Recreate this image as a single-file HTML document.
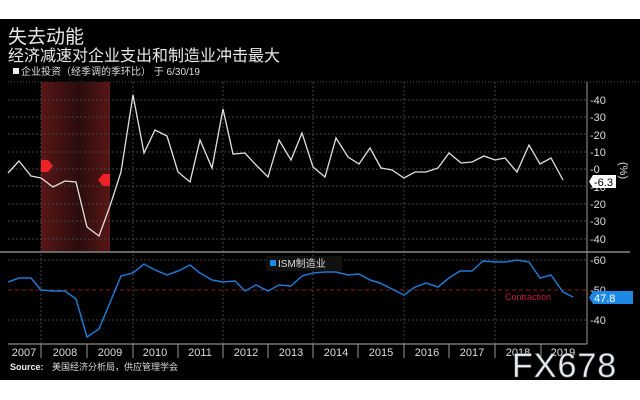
<!DOCTYPE html>
<html><head><meta charset="utf-8"><style>
body{margin:0;background:#fff;width:640px;height:400px;overflow:hidden}
svg{display:block}
text{font-family:"Liberation Sans","Noto Sans CJK SC",sans-serif}
</style></head><body>
<svg width="640" height="400" viewBox="0 0 640 400">
<defs>
<linearGradient id="rb" x1="0" x2="1">
<stop offset="0" stop-color="#5a1616"/><stop offset="0.55" stop-color="#2a0c0c"/><stop offset="1" stop-color="#5a1616"/>
</linearGradient>
</defs>
<rect x="0" y="19" width="640" height="361" fill="#000"/>
<text x="8" y="43" fill="#e8e8e8" font-size="19" font-family="Noto Serif CJK SC,serif">失去动能</text>
<text x="8" y="61" fill="#e8e8e8" font-size="16" font-family="Noto Serif CJK SC,serif">经济减速对企业支出和制造业冲击最大</text>
<rect x="13" y="68" width="6" height="6" fill="#eee"/>
<text x="21" y="75" fill="#ddd" font-size="10">企业投资（经季调的季环比） 于 6/30/19</text>
<line x1="8" y1="82" x2="640" y2="82" stroke="#555" stroke-dasharray="1,2"/>
<rect x="41" y="82" width="69" height="170" fill="url(#rb)"/>
<g stroke="#444" stroke-dasharray="2,2" stroke-width="1">
<line x1="8" x2="587" y1="100" y2="100"/><line x1="8" x2="587" y1="117" y2="117"/><line x1="8" x2="587" y1="134" y2="134"/><line x1="8" x2="587" y1="152" y2="152"/><line x1="8" x2="587" y1="169" y2="169"/><line x1="8" x2="587" y1="186" y2="186"/><line x1="8" x2="587" y1="204" y2="204"/><line x1="8" x2="587" y1="221" y2="221"/><line x1="8" x2="587" y1="239" y2="239"/>
<line x1="8" x2="587" y1="260" y2="260"/><line x1="8" x2="587" y1="320" y2="320"/>
<line x1="41" x2="41" y1="82" y2="344"/><line x1="133" x2="133" y1="82" y2="344"/><line x1="223" x2="223" y1="82" y2="344"/><line x1="313" x2="313" y1="82" y2="344"/><line x1="404" x2="404" y1="82" y2="344"/><line x1="495" x2="495" y1="82" y2="344"/>
</g>
<line x1="8" x2="587" y1="290" y2="290" stroke="#8a1a1a" stroke-dasharray="4,3"/>
<line x1="0" x2="630" y1="252" y2="252" stroke="#666" stroke-width="2"/>
<line x1="587" x2="587" y1="82" y2="344" stroke="#999"/>
<line x1="8" x2="587" y1="344" y2="344" stroke="#aaa"/>
<g fill="#ddd" font-size="11">
<text x="590" y="104">-40</text><text x="590" y="121">-30</text><text x="590" y="139">-20</text><text x="590" y="156">-10</text><text x="590" y="173">-0</text>
<text x="590" y="208">-10</text><text x="590" y="225">-20</text><text x="590" y="243">-30</text><text x="590" y="260" font-size="0">.</text>
<text x="590" y="243">-40</text>
<text x="590" y="264">-60</text><text x="590" y="294">-50</text><text x="590" y="324">-40</text>
</g>
<g fill="#000"><rect x="589" y="96" width="30" height="12"/><rect x="589" y="113" width="30" height="12"/><rect x="589" y="130" width="30" height="12"/><rect x="589" y="148" width="30" height="12"/><rect x="589" y="165" width="30" height="12"/><rect x="589" y="200" width="30" height="12"/><rect x="589" y="217" width="30" height="12"/><rect x="589" y="235" width="30" height="12"/></g>
<g fill="#ddd" font-size="11">
<text x="590" y="104">-40</text><text x="590" y="121">-30</text><text x="590" y="139">-20</text><text x="590" y="156">-10</text><text x="590" y="173">-0</text>
<text x="590" y="191">-10</text><text x="590" y="208">-20</text><text x="590" y="225">-30</text><text x="590" y="243">-40</text>
</g>
<text x="0" y="0" fill="#ddd" font-size="11" transform="translate(620,162) rotate(90)">(%)</text>
<polyline fill="none" stroke="#e0e0e0" stroke-width="1.3" points="8,173 19,161 31,176 41,178 53,187 65,181 76,182 87,227 99,236 110,206 121,172 133,95 144,153 155,130 167,136 178,172 190,182 200,140 212,168 223,109 233,154 245,153 256,165 268,177 279,140 291,160 302,133 313,167 325,177 336,138 348,157 359,164 370,148 381,168 392,170 404,178 415,172 426,172 438,168 449,153 461,163 472,162 484,156 495,160 505,158 517,172 529,145 540,164 551,158 563,180"/>
<path d="M41,160 h7 l5,6 l-5,6 h-7z" fill="#e22"/><path d="M103,174 h7 v12 h-7 l-5,-6z" fill="#e22"/>
<polyline fill="none" stroke="#1e78d0" stroke-width="1.5" points="8,282 19,278 31,278 41,290 53,291 65,291 76,299 87,337 99,329 121,276 133,273 144,264 155,270 167,275 178,271 190,265 200,273 212,280 223,282 235,281 245,291 256,285 268,291 279,285 291,286 302,276 313,273 325,272 336,272 348,275 359,274 370,280 380,283 404,295 415,287 426,283 438,287 449,278 460,271 472,271 483,261 495,262 506,262 517,260 529,262 540,278 551,275 563,292 573,297"/>
<rect x="266" y="256" width="76" height="15" fill="#111"/>
<rect x="270" y="260" width="6" height="6" fill="#1e88e5"/>
<text x="278" y="267" fill="#ddd" font-size="10">ISM制造业</text>
<text x="505" y="300" fill="#c0203a" font-size="9">Contraction</text>
<path d="M593,291 h40 v13 h-40 l-4,-6.5z" fill="#1e88e5"/>
<text x="594" y="302" fill="#fff" font-size="11">47.8</text>
<path d="M593,175 h23 v13 h-23 l-4,-6.5z" fill="#fff"/>
<text x="594" y="186" fill="#000" font-size="11">-6.3</text>
<g fill="#ddd" font-size="11" text-anchor="middle">
<text x="24" y="356">2007</text><text x="65" y="356">2008</text><text x="110" y="356">2009</text><text x="155" y="356">2010</text><text x="200" y="356">2011</text><text x="246" y="356">2012</text><text x="291" y="356">2013</text><text x="336" y="356">2014</text><text x="381" y="356">2015</text><text x="427" y="356">2016</text><text x="472" y="356">2017</text><text x="518" y="356">2018</text><text x="563" y="356">2019</text>
</g>
<g stroke="#999"><line x1="41" x2="41" y1="344" y2="358"/><line x1="87" x2="87" y1="344" y2="358"/><line x1="133" x2="133" y1="344" y2="358"/><line x1="178" x2="178" y1="344" y2="358"/><line x1="223" x2="223" y1="344" y2="358"/><line x1="268" x2="268" y1="344" y2="358"/><line x1="313" x2="313" y1="344" y2="358"/><line x1="358" x2="358" y1="344" y2="358"/><line x1="404" x2="404" y1="344" y2="358"/><line x1="449" x2="449" y1="344" y2="358"/><line x1="495" x2="495" y1="344" y2="358"/><line x1="541" x2="541" y1="344" y2="358"/></g>
<text x="10" y="370" fill="#eee" font-size="9" font-weight="bold">Source:</text>
<text x="52" y="370" fill="#ddd" font-size="9">美国经济分析局，供应管理学会</text>
<text x="512" y="377" fill="#e8eef5" stroke="#555" stroke-width="0.6" font-size="34" letter-spacing="1">FX678</text>
</svg>
</body></html>
